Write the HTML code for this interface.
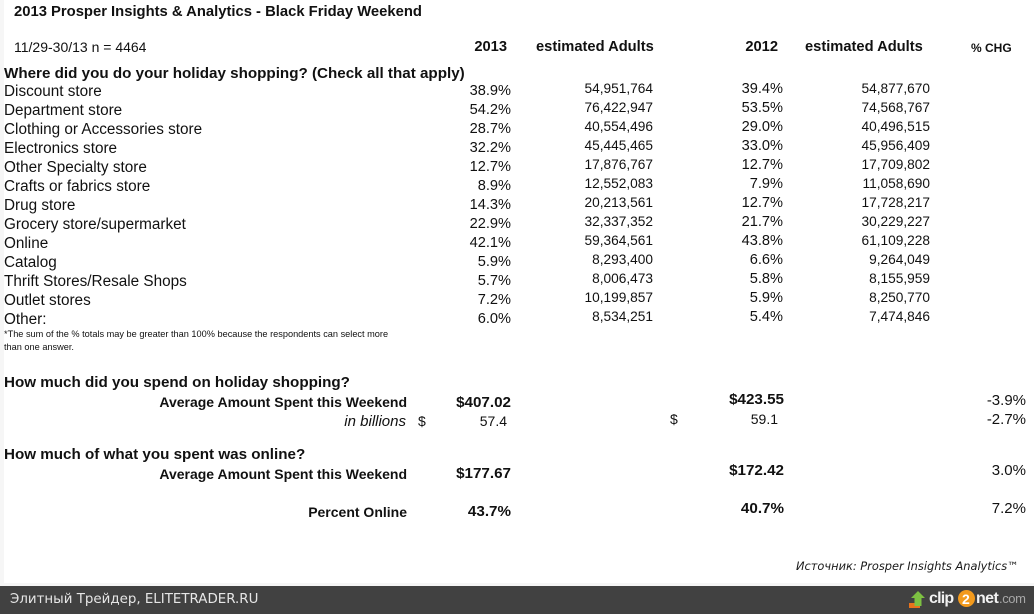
<!DOCTYPE html>
<html>
<head>
<meta charset="utf-8">
<style>
html,body{margin:0;padding:0;}
body{width:1034px;height:614px;position:relative;overflow:hidden;background:#f6f6f6;font-family:"Liberation Sans",Arial,sans-serif;color:#111;}
.panel{position:absolute;left:4px;top:0;width:1030px;height:583px;background:#fff;}
.t{position:absolute;white-space:nowrap;line-height:1;}
.b{font-weight:bold;}
.lab{font-size:15.3px;left:4px;}
.p{font-size:14.6px;}
.a{font-size:13.7px;}
.bar{position:absolute;left:0;top:586px;width:1034px;height:28px;background:#414141;}
.ft{font-family:"DejaVu Sans",Verdana,sans-serif;}
</style>
</head>
<body>
<div class="panel"></div>

<div class="t b" style="left:14px;top:5px;font-size:14.8px;">2013 Prosper Insights &amp; Analytics - Black Friday Weekend</div>
<div class="t" style="left:14px;top:40px;font-size:14px;">11/29-30/13 n = 4464</div>
<div class="t b" style="right:527px;top:40px;font-size:14.7px;">2013</div>
<div class="t b" style="left:536px;top:40px;font-size:14.7px;">estimated Adults</div>
<div class="t b" style="right:256px;top:40px;font-size:14.7px;">2012</div>
<div class="t b" style="left:805px;top:40px;font-size:14.7px;">estimated Adults</div>
<div class="t b" style="left:971px;top:42px;font-size:12px;">% CHG</div>

<div class="t b" style="left:4px;top:66px;font-size:15.2px;">Where did you do your holiday shopping? (Check all that apply)</div>

<div class="t lab" style="top:83.5px;">Discount store</div>
<div class="t lab" style="top:102.5px;">Department store</div>
<div class="t lab" style="top:121.5px;">Clothing or Accessories store</div>
<div class="t lab" style="top:140.5px;">Electronics store</div>
<div class="t lab" style="top:159.5px;">Other Specialty store</div>
<div class="t lab" style="top:178.5px;">Crafts or fabrics store</div>
<div class="t lab" style="top:197.5px;">Drug store</div>
<div class="t lab" style="top:216.5px;">Grocery store/supermarket</div>
<div class="t lab" style="top:235.5px;">Online</div>
<div class="t lab" style="top:254.5px;">Catalog</div>
<div class="t lab" style="top:273.5px;">Thrift Stores/Resale Shops</div>
<div class="t lab" style="top:292.5px;">Outlet stores</div>
<div class="t lab" style="top:311.5px;">Other:</div>

<div class="t p" style="right:523px;top:84px;">38.9%</div>
<div class="t p" style="right:523px;top:103px;">54.2%</div>
<div class="t p" style="right:523px;top:122px;">28.7%</div>
<div class="t p" style="right:523px;top:141px;">32.2%</div>
<div class="t p" style="right:523px;top:160px;">12.7%</div>
<div class="t p" style="right:523px;top:179px;">8.9%</div>
<div class="t p" style="right:523px;top:198px;">14.3%</div>
<div class="t p" style="right:523px;top:217px;">22.9%</div>
<div class="t p" style="right:523px;top:236px;">42.1%</div>
<div class="t p" style="right:523px;top:255px;">5.9%</div>
<div class="t p" style="right:523px;top:274px;">5.7%</div>
<div class="t p" style="right:523px;top:293px;">7.2%</div>
<div class="t p" style="right:523px;top:312px;">6.0%</div>

<div class="t a" style="right:381px;top:82px;">54,951,764</div>
<div class="t a" style="right:381px;top:101px;">76,422,947</div>
<div class="t a" style="right:381px;top:120px;">40,554,496</div>
<div class="t a" style="right:381px;top:139px;">45,445,465</div>
<div class="t a" style="right:381px;top:158px;">17,876,767</div>
<div class="t a" style="right:381px;top:177px;">12,552,083</div>
<div class="t a" style="right:381px;top:196px;">20,213,561</div>
<div class="t a" style="right:381px;top:215px;">32,337,352</div>
<div class="t a" style="right:381px;top:234px;">59,364,561</div>
<div class="t a" style="right:381px;top:253px;">8,293,400</div>
<div class="t a" style="right:381px;top:272px;">8,006,473</div>
<div class="t a" style="right:381px;top:291px;">10,199,857</div>
<div class="t a" style="right:381px;top:310px;">8,534,251</div>

<div class="t p" style="right:251px;top:82px;">39.4%</div>
<div class="t p" style="right:251px;top:101px;">53.5%</div>
<div class="t p" style="right:251px;top:120px;">29.0%</div>
<div class="t p" style="right:251px;top:139px;">33.0%</div>
<div class="t p" style="right:251px;top:158px;">12.7%</div>
<div class="t p" style="right:251px;top:177px;">7.9%</div>
<div class="t p" style="right:251px;top:196px;">12.7%</div>
<div class="t p" style="right:251px;top:215px;">21.7%</div>
<div class="t p" style="right:251px;top:234px;">43.8%</div>
<div class="t p" style="right:251px;top:253px;">6.6%</div>
<div class="t p" style="right:251px;top:272px;">5.8%</div>
<div class="t p" style="right:251px;top:291px;">5.9%</div>
<div class="t p" style="right:251px;top:310px;">5.4%</div>

<div class="t a" style="right:104px;top:82px;">54,877,670</div>
<div class="t a" style="right:104px;top:101px;">74,568,767</div>
<div class="t a" style="right:104px;top:120px;">40,496,515</div>
<div class="t a" style="right:104px;top:139px;">45,956,409</div>
<div class="t a" style="right:104px;top:158px;">17,709,802</div>
<div class="t a" style="right:104px;top:177px;">11,058,690</div>
<div class="t a" style="right:104px;top:196px;">17,728,217</div>
<div class="t a" style="right:104px;top:215px;">30,229,227</div>
<div class="t a" style="right:104px;top:234px;">61,109,228</div>
<div class="t a" style="right:104px;top:253px;">9,264,049</div>
<div class="t a" style="right:104px;top:272px;">8,155,959</div>
<div class="t a" style="right:104px;top:291px;">8,250,770</div>
<div class="t a" style="right:104px;top:310px;">7,474,846</div>

<div class="t" style="left:4px;top:328px;font-size:9.2px;line-height:13px;">*The sum of the % totals may be greater than 100% because the respondents can select more<br>than one answer.</div>

<div class="t b" style="left:4px;top:374.5px;font-size:15.2px;">How much did you spend on holiday shopping?</div>
<div class="t b" style="right:627px;top:395px;font-size:14px;">Average Amount Spent this Weekend</div>
<div class="t b" style="right:523px;top:394.5px;font-size:15.2px;">$407.02</div>
<div class="t" style="right:628px;top:413.5px;font-size:15px;font-style:italic;">in billions</div>
<div class="t" style="left:418px;top:414px;font-size:14px;">$</div>
<div class="t" style="right:527px;top:414px;font-size:14px;">57.4</div>
<div class="t b" style="right:250px;top:391.5px;font-size:15.2px;">$423.55</div>
<div class="t" style="left:670px;top:412px;font-size:14px;">$</div>
<div class="t" style="right:256px;top:412px;font-size:14px;">59.1</div>
<div class="t" style="right:8px;top:393px;font-size:15px;">-3.9%</div>
<div class="t" style="right:8px;top:411.5px;font-size:15px;">-2.7%</div>

<div class="t b" style="left:4px;top:446.5px;font-size:15.2px;">How much of what you spent was online?</div>
<div class="t b" style="right:627px;top:466.5px;font-size:14px;">Average Amount Spent this Weekend</div>
<div class="t b" style="right:523px;top:465.5px;font-size:15.2px;">$177.67</div>
<div class="t b" style="right:250px;top:463px;font-size:15.2px;">$172.42</div>
<div class="t" style="right:8px;top:463px;font-size:15px;">3.0%</div>

<div class="t b" style="right:627px;top:505px;font-size:14px;">Percent Online</div>
<div class="t b" style="right:523px;top:503.5px;font-size:15.2px;">43.7%</div>
<div class="t b" style="right:250px;top:500.5px;font-size:15.2px;">40.7%</div>
<div class="t" style="right:8px;top:500.5px;font-size:15px;">7.2%</div>

<div class="t ft" style="left:796px;top:560.5px;font-size:11.4px;font-style:italic;color:#1a1a1a;">Источник: Prosper Insights Analytics™</div>

<div class="bar"></div>
<div class="t ft" style="left:10px;top:592.5px;font-size:13.4px;color:#e6e6e6;">Элитный Трейдер, ELITETRADER.RU</div>

<svg style="position:absolute;left:908px;top:590px;" width="20" height="20" viewBox="0 0 20 20">
  <rect x="1" y="13" width="11" height="5" fill="#e8731c"/>
  <polygon points="10,1 17,8 13.5,8 13.5,16 6.5,16 6.5,8 3,8" fill="#7dc142"/>
</svg>
<div class="t b" style="left:929px;top:591px;font-size:16px;color:#f2f2f2;letter-spacing:-0.8px;">clip</div>
<div style="position:absolute;left:958px;top:590px;width:17px;height:17px;border-radius:50%;background:#f39a1c;"></div>
<div class="t b" style="left:962px;top:592px;font-size:14px;color:#fff;">2</div>
<div class="t b" style="left:976px;top:591px;font-size:16px;color:#f2f2f2;letter-spacing:-0.6px;">net</div>
<div class="t" style="left:999px;top:592px;font-size:13px;color:#a8a8a8;letter-spacing:-0.4px;">.com</div>
</body>
</html>
